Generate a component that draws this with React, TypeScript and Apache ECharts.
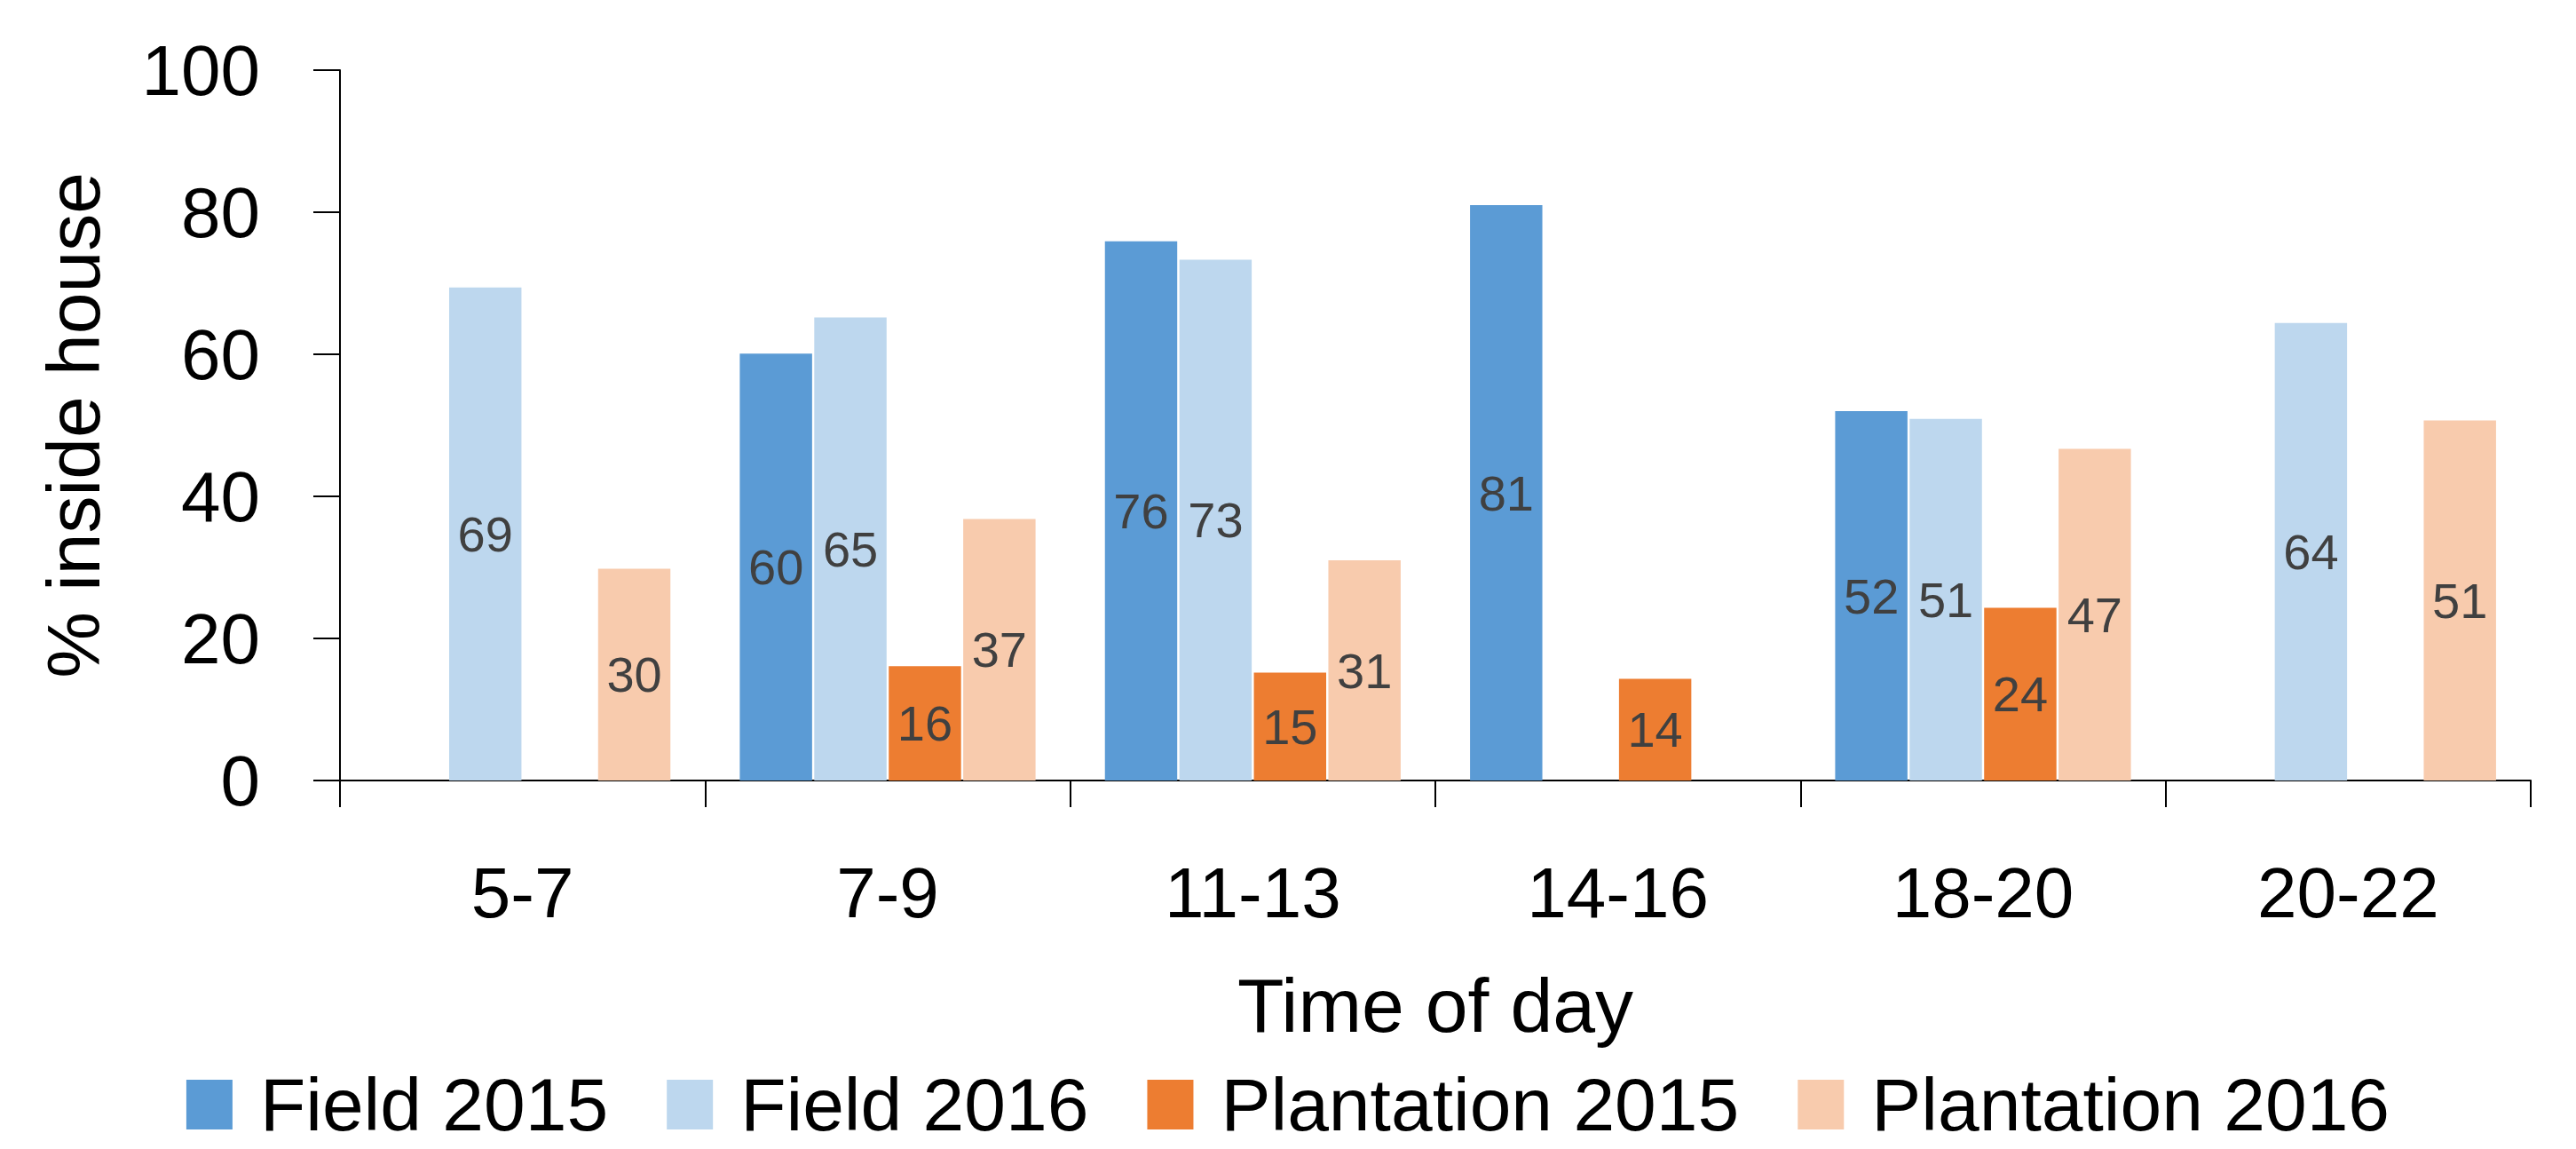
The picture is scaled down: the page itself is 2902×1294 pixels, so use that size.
import React, { useEffect, useRef } from "react";
import * as echarts from "echarts";

const categories = ["5-7", "7-9", "11-13", "14-16", "18-20", "20-22"];
const field2015 = [null, 60.1, 75.9, 81.0, 52.0, null];
const field2016 = [69.4, 65.2, 73.3, null, 50.9, 64.4];
const plantation2015 = [null, 16.1, 15.2, 14.3, 24.3, null];
const plantation2016 = [29.8, 36.8, 31.0, null, 46.7, 50.7];
const seriesNames = ["Field 2015", "Field 2016", "Plantation 2015", "Plantation 2016"];
const seriesColors = ["#5B9BD5", "#BDD7EE", "#ED7D31", "#F8CBAD"];
const yTicks = { min: 0, max: 100, interval: 20 };

const FONT = "'Liberation Sans', Arial, sans-serif";

export default function App() {
  const ref = useRef<HTMLDivElement>(null);
  useEffect(() => {
    if (!ref.current) return;
    const chart = echarts.init(ref.current, null, { renderer: "svg" });
    const data = [field2015, field2016, plantation2015, plantation2016];
    chart.setOption({
      animation: false,
      backgroundColor: "#ffffff",
      textStyle: { fontFamily: FONT },
      grid: { left: 383, right: 51, top: 79, bottom: 415, containLabel: false },
      legend: {
        data: seriesNames,
        left: "center",
        top: 1197,
        icon: "rect",
        itemWidth: 52,
        itemHeight: 56,
        itemGap: 66,
        textStyle: {
          fontFamily: FONT,
          fontSize: 84,
          color: "#000",
          lineHeight: 84,
          padding: [0, 0, 0, 26],
        },
      },
      xAxis: {
        type: "category",
        data: categories,
        name: "Time of day",
        nameLocation: "middle",
        nameGap: 210,
        nameTextStyle: { fontFamily: FONT, fontSize: 86, color: "#000" },
        axisLine: { show: true, lineStyle: { color: "#000", width: 2 } },
        axisTick: { show: true, length: 30, lineStyle: { color: "#000", width: 2 } },
        axisLabel: { fontFamily: FONT, fontSize: 80, color: "#000", margin: 86 },
      },
      yAxis: {
        type: "value",
        min: yTicks.min,
        max: yTicks.max,
        interval: yTicks.interval,
        name: "% inside house",
        nameLocation: "middle",
        nameGap: 258,
        nameRotate: 90,
        nameTextStyle: { fontFamily: FONT, fontSize: 84, color: "#000" },
        splitLine: { show: false },
        axisLine: { show: true, lineStyle: { color: "#000", width: 2 } },
        axisTick: { show: true, length: 30, lineStyle: { color: "#000", width: 2 } },
        axisLabel: { fontFamily: FONT, fontSize: 80, color: "#000", margin: 90 },
      },
      series: seriesNames.map((name, i) => ({
        name,
        type: "bar",
        data: data[i],
        barCategoryGap: "19%",
        barGap: "3%",
        itemStyle: { color: seriesColors[i] },
        label: {
          show: true,
          position: "inside",
          fontFamily: FONT,
          fontSize: 56,
          color: "#404040",
          formatter: (p: any) => (p.value == null ? "" : String(Math.round(p.value))),
        },
      })),
    });
    return () => chart.dispose();
  }, []);
  return (
    <div
      ref={ref}
      style={{ position: "absolute", left: 0, top: 0, width: 2902, height: 1294 }}
    />
  );
}
